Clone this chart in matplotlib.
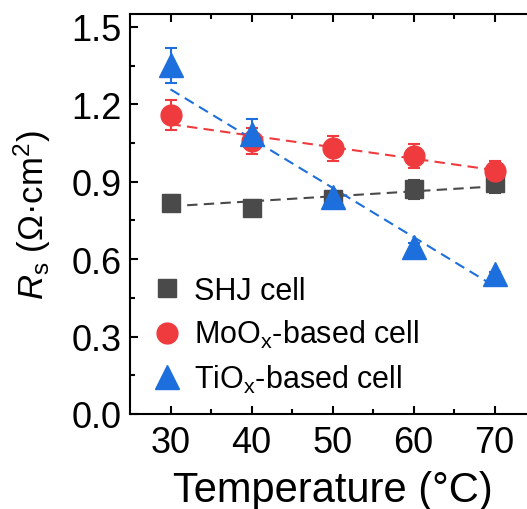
import numpy as np
import matplotlib
matplotlib.use('Agg')
import matplotlib.pyplot as plt

# values
temps = [30, 40, 50, 60, 70]
shj = [0.818, 0.800, 0.835, 0.870, 0.895]
shj_err = [0.030, 0.030, 0.025, 0.035, 0.040]
moox = [1.157, 1.057, 1.030, 1.000, 0.940]
moox_err = [0.058, 0.050, 0.048, 0.045, 0.040]
tiox = [1.352, 1.085, 0.840, 0.646, 0.542]
tiox_err = [0.068, 0.058, 0.025, 0.015, 0.010]

# dashed linear-fit lines, values at 30 and 70 °C
fit_x = [30, 70]
shj_fit = [0.805, 0.882]
moox_fit = [1.123, 0.945]
tiox_fit = [1.258, 0.495]

labels = ['SHJ cell', 'MoO$_\\mathrm{x}$-based cell', 'TiO$_\\mathrm{x}$-based cell']
colors = ['#4a4a4a', '#ef3b3e', '#1c6fdc']
markers = ['s', 'o', '^']
msizes = [13, 15, 17]

plt.rcParams['font.family'] = 'Liberation Sans'
plt.rcParams['mathtext.fontset'] = 'custom'
plt.rcParams['mathtext.rm'] = 'Liberation Sans'
plt.rcParams['mathtext.it'] = 'Liberation Sans:italic'

fig = plt.figure(figsize=(5.27, 5.10), dpi=100)
ax = fig.add_axes([130 / 527, 95 / 510, 405 / 527, 400 / 510])

x = np.array(temps)
for ys, err, fit, lab, c, m, ms in zip([shj, moox, tiox], [shj_err, moox_err, tiox_err],
                                       [shj_fit, moox_fit, tiox_fit],
                                       labels, colors, markers, msizes):
    ax.plot(fit_x, fit, ls=(0, (5, 3)), color=c, lw=1.5, zorder=1)
    ax.errorbar(x, ys, yerr=err, fmt=m, color=c, ms=ms, mec=c, elinewidth=1.5,
                capsize=4, capthick=1.5, label=lab, zorder=3)

ax.set_xlim(25, 75)
ax.set_ylim(0, 1.55)
ax.set_xticks([30, 40, 50, 60, 70])
ax.set_xticks([35, 45, 55, 65], minor=True)
ax.set_yticks([0.0, 0.3, 0.6, 0.9, 1.2, 1.5])
ax.set_yticks([0.15, 0.45, 0.75, 1.05, 1.35], minor=True)
ax.set_yticklabels(['0.0', '0.3', '0.6', '0.9', '1.2', '1.5'])
ax.tick_params(which='both', direction='in', top=True, right=True, width=1.5,
               labelsize=26)
ax.tick_params(axis='x', pad=8)
ax.tick_params(axis='y', pad=6)
ax.tick_params(which='major', length=6)
ax.tick_params(which='minor', length=3.5)
for s in ax.spines.values():
    s.set_linewidth(1.5)

ax.set_xlabel('Temperature (°C)', fontsize=30, labelpad=7)
ax.set_ylabel('$\\mathit{R}_\\mathrm{s}$ (Ω·cm$^2$)', fontsize=25)
ax.yaxis.set_label_coords(-0.19, 0.5)

handles, labs = ax.get_legend_handles_labels()
handles = [h[0] for h in handles]
ax.legend(handles, labs, loc='upper left', frameon=False, fontsize=22,
          handletextpad=0.3, labelspacing=0.4, borderaxespad=0, borderpad=0,
          handlelength=1.2, bbox_to_anchor=(0.045, 0.345))

fig.savefig('out.png', dpi=100)
